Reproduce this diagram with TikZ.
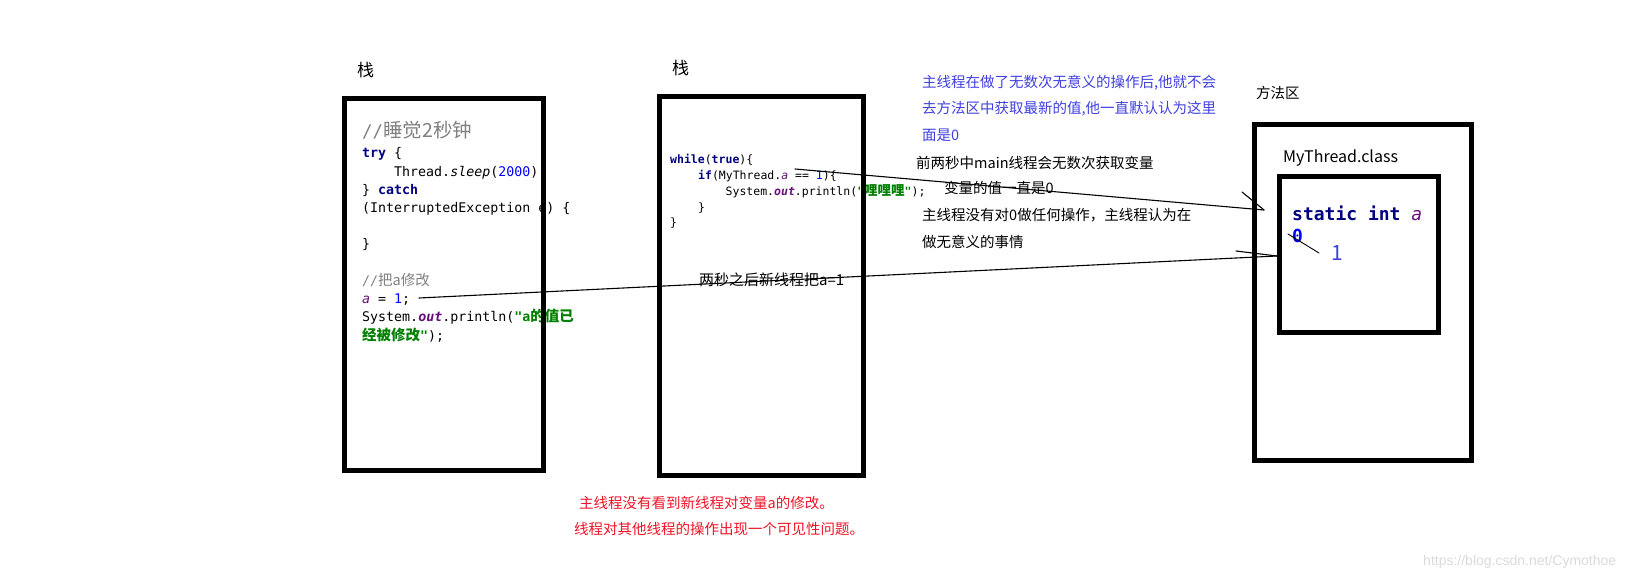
\documentclass[tikz,border=0pt]{standalone}
\usepackage{fontspec}
\setmainfont{Noto Sans CJK SC}
\setmonofont{DejaVu Sans Mono}
\newfontfamily\cjk{Noto Sans CJK SC}
\newfontfamily\wmfont{Liberation Sans}
\definecolor{jnavy}{RGB}{0,0,128}
\definecolor{jpurple}{RGB}{102,14,122}
\definecolor{jgreen}{RGB}{0,128,0}
\definecolor{jblue}{RGB}{0,0,255}
\definecolor{jgray}{RGB}{128,128,128}
\definecolor{annblue}{RGB}{64,64,224}
\definecolor{annred}{RGB}{240,20,40}
\newcommand\kw[1]{{\bfseries\color{jnavy}#1}}
\newcommand\zhs[2]{{\cjk\fontsize{#1}{#1}\selectfont #2}}
\newcommand\fld[1]{{\color{jpurple}\itshape #1}}
\newcommand\sfld[1]{{\color{jpurple}\bfseries\itshape #1}}
\newcommand\num[1]{{\color{jblue}#1}}
\tikzset{
  box/.style={draw, line width=5pt, inner sep=0pt, outer sep=0pt},
  codeA/.style={anchor=base west, inner sep=0pt, font=\ttfamily\fontsize{13.3}{16}\selectfont},
  codeB/.style={anchor=base west, inner sep=0pt, font=\ttfamily\fontsize{11.5}{14}\selectfont},
  ann/.style={anchor=west, inner sep=0pt, font=\fontsize{14.5}{16}\selectfont},
  title/.style={anchor=west, inner sep=0pt, font=\fontsize{17}{18}\selectfont},
  conn/.style={line width=1.1pt, line cap=round},
}
\begin{document}
\begin{tikzpicture}[x=1pt,y=-1pt]
\fill[white] (0,0) rectangle (1652,580);
\useasboundingbox (0,0) rectangle (1652,580);

% titles
\node[title] (st1) at (357,70) {栈};
\node[title] (st2) at (672,68) {栈};
\node[ann, font=\fontsize{14.5}{16}\selectfont] (mth) at (1256,93) {方法区};
\node[title, font=\fontsize{16}{18}\selectfont] (cls) at (1283,158) {MyThread.class};

% code in first stack
\node[codeA, font=\ttfamily\fontsize{17.5}{20}\selectfont, text=jgray] (c1) at (362,138) {//\zhs{19.5}{睡觉2秒钟}};
\node[codeA] (c2) at (362,158) {\kw{try} \{};
\node[codeA] (c3) at (394,176.2) {Thread.\textit{sleep}(\num{2000});};
\node[codeA] (c4) at (362,194.4) {\} \kw{catch}};
\node[codeA] (c5) at (362,212.6) {(InterruptedException e) \{};
\node[codeA] (c6) at (362,249) {\}};
\node[codeA, text=jgray] (c7) at (362,285.4) {//\zhs{14.5}{把a修改}};
\node[codeA] (c8) at (362,303.6) {\fld{a} = \num{1};};
\node[codeA] (c9) at (362,321.8) {System.\sfld{out}.println({\color{jgreen}\bfseries "a\zhs{14.5}{的值已}}};
\node[codeA] (c10) at (362,340) {{\color{jgreen}\bfseries\zhs{14.5}{经被修改}"});};

% code in second stack
\node[codeB] (d1) at (670,163.5) {\kw{while}(\kw{true})\{};
\node[codeB] (d2) at (698,179.5) {\kw{if}(MyThread.\fld{a} == \num{1})\{};
\node[codeB] (d3) at (725.5,195.5) {System.\sfld{out}.println({\color{jgreen}\bfseries "\zhs{13.5}{哩哩哩}"});};
\node[codeB] (d4) at (698,211.5) {\}};
\node[codeB] (d5) at (670,226.5) {\}};
\node[ann, font=\fontsize{15}{16}\selectfont] (two) at (699,280) {两秒之后新线程把a=1};

% annotations
\node[ann, text=annblue] (b1) at (922,83) {主线程在做了无数次无意义的操作后,他就不会};
\node[ann, text=annblue] (b2) at (922,109) {去方法区中获取最新的值,他一直默认认为这里};
\node[ann, text=annblue] (b3) at (922,135) {面是0};
\node[ann] (k1) at (916,163) {前两秒中main线程会无数次获取变量};
\node[ann] (k2) at (944,188) {变量的值一直是0};
\node[ann] (k3) at (922,215) {主线程没有对0做任何操作，主线程认为在};
\node[ann] (k4) at (922,242) {做无意义的事情};
\node[ann, text=annred] (r1) at (579,503) {主线程没有看到新线程对变量a的修改。};
\node[ann, text=annred] (r2) at (574,529) {线程对其他线程的操作出现一个可见性问题。};
\node[anchor=west, inner sep=0pt, text=black!14, font=\wmfont\fontsize{14}{16}\selectfont] (wm) at (1423,562) {https://blog.csdn.net/Cymothoe};

% static field
\node[anchor=base west, inner sep=0pt, font=\ttfamily\bfseries\fontsize{18}{20}\selectfont, text=jnavy] (sf) at (1292,221) {static int {\color{jpurple}\mdseries\itshape a}};
\node[anchor=base west, inner sep=0pt, font=\ttfamily\bfseries\fontsize{18}{20}\selectfont, text=jblue] (zero) at (1292,243) {0};
\node[anchor=base west, inner sep=0pt, font=\fontsize{21}{22}\selectfont, text=annblue] (one) at (1331,260) {1};

% boxes
\node[box, minimum width=199pt, minimum height=371pt] (stack1) at (444,284.5) {};
\node[box, minimum width=204pt, minimum height=379pt] (stack2) at (761.5,286) {};
\node[box, minimum width=217pt, minimum height=335pt] (method) at (1363,292.5) {};
\node[box, minimum width=158.5pt, minimum height=155.5pt] (clsbox) at (1358.75,254.75) {};

% connectors
\coordinate (s1) at (419,298);
\coordinate (t1) at (1277,256);
\coordinate (b1a) at (1236,251);
\coordinate (s2) at (795,169);
\coordinate (t2) at (1264,210);
\coordinate (b2a) at (1242,192);
\coordinate (z1) at (1288,234);
\coordinate (z2) at (1319,253);
\draw[conn] (s1) -- (t1);
\draw[conn] (b1a) -- (t1);
\draw[conn] (s2) -- (t2);
\draw[conn] (b2a) -- (t2);
\draw[conn, line width=0.9pt] (z1) -- (z2);
\end{tikzpicture}
\end{document}
